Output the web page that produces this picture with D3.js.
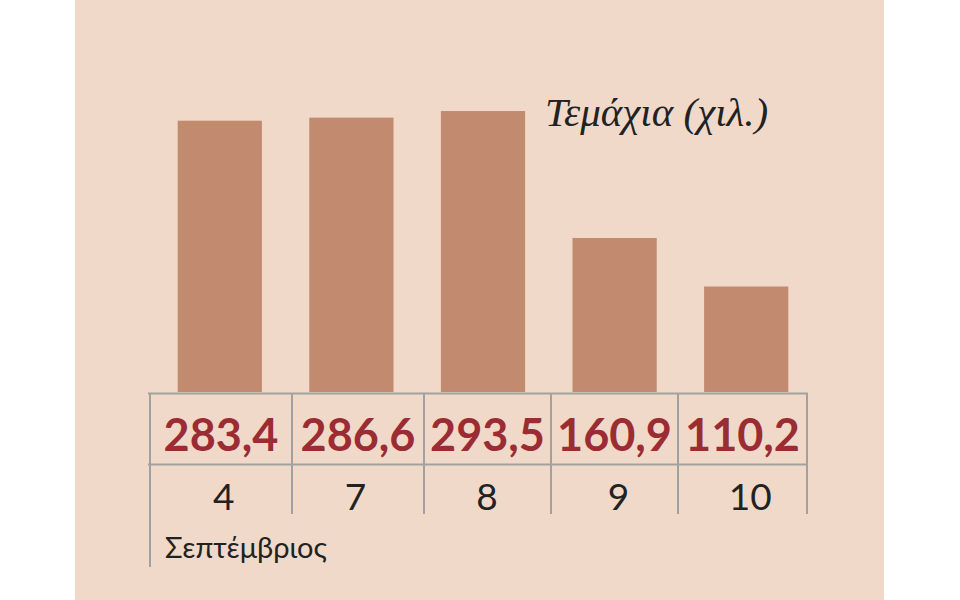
<!DOCTYPE html>
<html>
<head>
<meta charset="utf-8">
<script src="https://cdn.jsdelivr.net/npm/d3@7"></script>
<style>
  body { margin: 0; background: #fff; }
  svg { display: block; }
</style>
</head>
<body>
<svg width="960" height="600"></svg>
<script>
const days = ["4", "7", "8", "9", "10"];
const values = [283.4, 286.6, 293.5, 160.9, 110.2];
const valueLabels = ["283,4", "286,6", "293,5", "160,9", "110,2"];
const cellEdges = [150, 292, 424, 551, 678, 807];
const unitLabel = "Τεμάχια (χιλ.)";
const monthLabel = "Σεπτέμβριος";

const svg = d3.select("svg");

// panel
svg.append("rect")
  .attr("x", 75).attr("y", 0)
  .attr("width", 809).attr("height", 600)
  .attr("fill", "#f1d9c9");

const x = d3.scaleBand()
  .domain(days)
  .range([154, 812])
  .paddingInner(0.36)
  .paddingOuter(0.18);

const y = d3.scaleLinear()
  .domain([0, 300])
  .range([392, 104.8]);

svg.append("g")
  .selectAll("rect")
  .data(values)
  .enter()
  .append("rect")
  .attr("x", (d, i) => x(days[i]))
  .attr("y", d => y(d))
  .attr("width", x.bandwidth())
  .attr("height", d => y(0) - y(d))
  .attr("fill", "#c28a6e");

// table lines
const grid = svg.append("g")
  .attr("stroke", "#a3a1a0")
  .attr("stroke-width", 2);

grid.append("line")
  .attr("x1", 148).attr("x2", 808)
  .attr("y1", 393.5).attr("y2", 393.5);
grid.append("line")
  .attr("x1", 148).attr("x2", 808)
  .attr("y1", 464.5).attr("y2", 464.5);

grid.selectAll("line.v")
  .data(cellEdges)
  .enter()
  .append("line")
  .attr("class", "v")
  .attr("x1", d => d).attr("x2", d => d)
  .attr("y1", 393)
  .attr("y2", (d, i) => i === 0 ? 567 : 514);

const cellMid = i => (cellEdges[i] + cellEdges[i + 1]) / 2;

svg.append("g")
  .selectAll("text")
  .data(valueLabels)
  .enter()
  .append("text")
  .attr("x", (d, i) => cellMid(i))
  .attr("y", 451)
  .attr("text-anchor", "middle")
  .attr("font-family", "Lato, sans-serif")
  .attr("font-weight", "bold")
  .attr("font-size", 45)
  .attr("fill", "#9b2c33")
  .text(d => d);

svg.append("g")
  .selectAll("text")
  .data(days)
  .enter()
  .append("text")
  .attr("x", (d, i) => x(d) + x.bandwidth() / 2 + 4)
  .attr("y", 510)
  .attr("text-anchor", "middle")
  .attr("font-family", "Lato, sans-serif")
  .attr("font-size", 37)
  .attr("fill", "#222")
  .text(d => d);

svg.append("text")
  .attr("x", 165)
  .attr("y", 558)
  .attr("font-family", "Lato, sans-serif")
  .attr("font-size", 29)
  .attr("fill", "#222")
  .text(monthLabel);

svg.append("text")
  .attr("x", 545)
  .attr("y", 126)
  .attr("font-family", "'Liberation Serif', serif")
  .attr("font-style", "italic")
  .attr("font-size", 41)
  .attr("fill", "#222")
  .text(unitLabel);
</script>
</body>
</html>
